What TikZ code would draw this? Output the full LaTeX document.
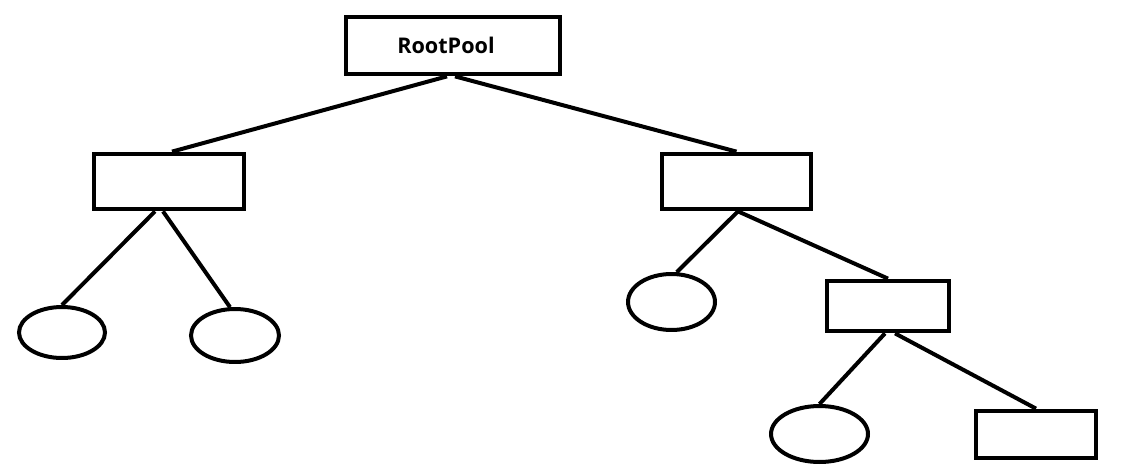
\documentclass[tikz,border=0pt]{standalone}
\usepackage{fontspec}
\newfontfamily\poolfont{Open Sans}
\usetikzlibrary{shapes.geometric}

\tikzset{
	poolbox/.style={draw, line width=0.095cm, inner sep=0pt, minimum width=#1},
	poolbox/.default=3cm,
	leaf/.style={draw, ellipse, line width=0.08cm, inner sep=0pt},
	branch/.style={line width=0.08cm}
}

\begin{document}
\begin{tikzpicture}[x=0.02cm,y=-0.02cm]
		\useasboundingbox (0,0) rectangle (1131,476);
		% pools
		\node[poolbox=4.28cm, minimum height=1.14cm, font=\poolfont\bfseries\fontsize{12.3}{14}\selectfont] (root) at (453,45.5) {RootPool\hspace*{0.28cm}};
		\node[poolbox, minimum height=1.1cm] (left) at (169,181.5) {};
		\node[poolbox=2.98cm, minimum height=1.1cm] (right) at (736.5,181.5) {};
		\node[poolbox=2.44cm, minimum height=1cm] (sub) at (888,306) {};
		\node[poolbox=2.4cm, minimum height=0.94cm] (subright) at (1036,434.5) {};
		% leaves
		\node[leaf, minimum width=1.72cm, minimum height=1.02cm] (leftA) at (62,332.5) {};
		\node[leaf, minimum width=1.76cm, minimum height=1.06cm] (leftB) at (235,335.5) {};
		\node[leaf, minimum width=1.74cm, minimum height=1.12cm] (rightA) at (671.5,302) {};
		\node[leaf, minimum width=1.94cm, minimum height=1.12cm] (subleft) at (819.5,434) {};
		% branches
		\draw[branch] ([xshift=-0.12cm]root.south) -- ([xshift=0.06cm]left.north);
		\draw[branch] ([xshift=0.04cm]root.south) -- (right.north);
		\draw[branch] ([xshift=-0.28cm]left.south) -- (leftA.north);
		\draw[branch] ([xshift=-0.12cm]left.south) -- (leftB.100);
		\draw[branch] ([xshift=0.03cm]right.south) -- (rightA.80);
		\draw[branch] ([xshift=0.03cm]right.south) -- (sub.north);
		\draw[branch] ([xshift=-0.06cm]sub.south) -- (subleft.north);
		\draw[branch] ([xshift=0.14cm]sub.south) -- (subright.north);
	\end{tikzpicture}
\end{document}
